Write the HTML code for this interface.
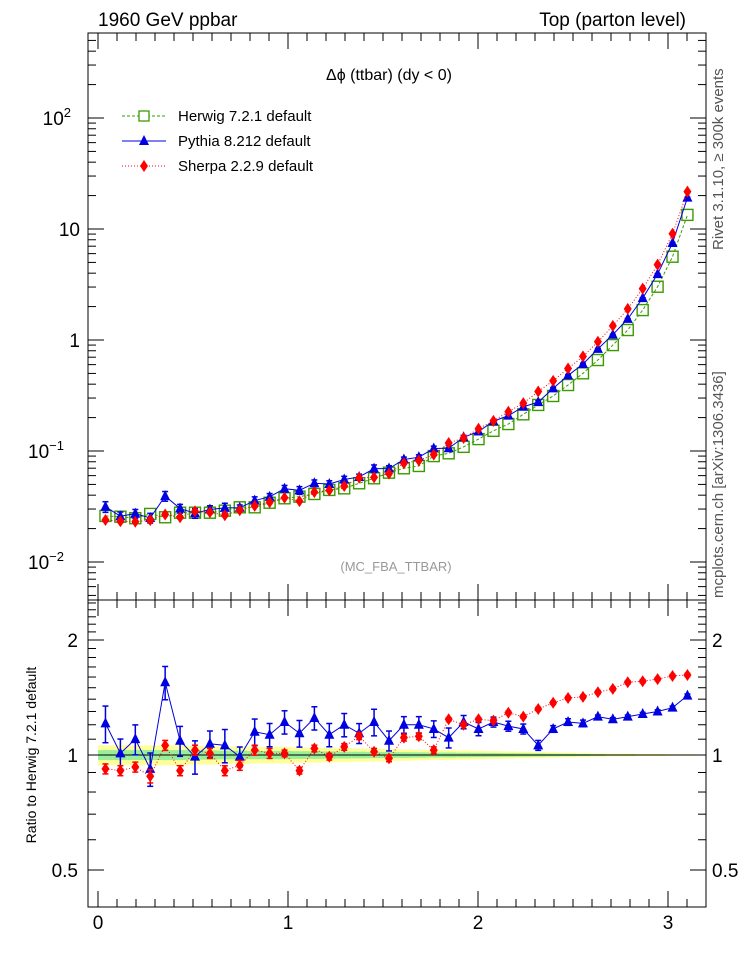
<!DOCTYPE html>
<html><head><meta charset="utf-8"><style>
html,body{margin:0;padding:0;background:#fff;}
svg{display:block;font-family:"Liberation Sans",sans-serif;}
</style></head><body>
<svg id="c" width="746" height="972" viewBox="0 0 746 972" xmlns="http://www.w3.org/2000/svg">
<text x="98" y="26" font-size="19">1960 GeV ppbar</text>
<text x="686" y="26" font-size="19" text-anchor="end">Top (parton level)</text>
<text x="389" y="80" font-size="16" text-anchor="middle">Δϕ (ttbar) (dy &lt; 0)</text>
<text x="396" y="571" font-size="13" fill="#999" text-anchor="middle">(MC_FBA_TTBAR)</text>
<text transform="translate(723,250) rotate(-90)" font-size="15" fill="#555">Rivet 3.1.10, ≥ 300k events</text>
<text transform="translate(723,598) rotate(-90)" font-size="15" fill="#555">mcplots.cern.ch [arXiv:1306.3436]</text>
<text transform="translate(36,755) rotate(-90)" font-size="14" text-anchor="middle">Ratio to Herwig 7.2.1 default</text>
<g id="legend">
<g><line x1="122" y1="116" x2="166" y2="116" stroke="#3a9a00" stroke-dasharray="3,2"/><rect x="139" y="111" width="10" height="10" fill="#fff" stroke="#3a9a00" stroke-width="1.3"/><text x="178" y="121" font-size="15">Herwig 7.2.1 default</text></g>
<g><line x1="122" y1="141" x2="166" y2="141" stroke="#0000e0"/><polygon points="144,135 149,145 139,145" fill="#0000e0"/><text x="178" y="146" font-size="15">Pythia 8.212 default</text></g>
<g><line x1="122" y1="166" x2="166" y2="166" stroke="#f00" stroke-dasharray="1,2"/><polygon points="144,160 148,166 144,172 140,166" fill="#f00"/><text x="178" y="171" font-size="15">Sherpa 2.2.9 default</text></g>
</g>
</svg>
<script>
const herwig=[0.0260,0.0256,0.0248,0.0271,0.0253,0.0278,0.0278,0.0278,0.0290,0.0311,0.0311,0.0342,0.0375,0.0388,0.0410,0.0446,0.0461,0.0512,0.0568,0.0638,0.0699,0.0733,0.090,0.0953,0.109,0.128,0.152,0.175,0.214,0.260,0.313,0.393,0.501,0.66,0.90,1.23,1.86,3.02,5.63,13.4];
const pythiaRatio=[1.21,1.01,1.10,0.92,1.55,1.09,0.99,1.07,1.06,0.99,1.15,1.13,1.22,1.14,1.25,1.13,1.20,1.14,1.22,1.09,1.20,1.20,1.17,1.11,1.22,1.17,1.22,1.19,1.17,1.06,1.17,1.22,1.21,1.26,1.24,1.26,1.28,1.30,1.33,1.43];
const sherpaRatio=[0.92,0.91,0.93,0.88,1.06,0.91,1.03,1.01,0.91,0.94,1.03,1.01,1.01,0.91,1.04,0.99,1.05,1.12,1.02,0.98,1.11,1.12,1.03,1.24,1.20,1.24,1.23,1.29,1.26,1.32,1.37,1.41,1.42,1.46,1.49,1.55,1.56,1.58,1.61,1.62];
const pythiaErr=[0.11,0.09,0.09,0.1,0.1,0.09,0.1,0.08,0.1,0.06,0.08,0.07,0.07,0.08,0.07,0.07,0.07,0.06,0.08,0.06,0.05,0.05,0.05,0.06,0.04,0.04,0.03,0.03,0.03,0.03,0.02,0.02,0.02,0.01,0.01,0.01,0.01,0.01,0.01,0.01];
const sherpaErr=[0.03,0.03,0.03,0.04,0.03,0.03,0.03,0.03,0.03,0.03,0.03,0.03,0.02,0.02,0.02,0.02,0.02,0.02,0.02,0.02,0.02,0.02,0.02,0.01,0.01,0.01,0.01,0.01,0.01,0.01,0.01,0.01,0.01,0.01,0.01,0.01,0.01,0.01,0.01,0.01];
const herwigErr=[0.03,0.03,0.03,0.03,0.03,0.03,0.028,0.028,0.026,0.026,0.025,0.025,0.025,0.023,0.023,0.022,0.021,0.02,0.019,0.018,0.017,0.016,0.015,0.015,0.014,0.013,0.012,0.011,0.01,0.009,0.008,0.007,0.006,0.005,0.004,0.004,0.003,0.003,0.002,0.002];
const mainTicks=[[2,"10","2"],[1,"10",""],[0,"1",""],[-1,"10","−1"],[-2,"10","−2"]];
const ratioTicks=[2,1,0.5];
const xTicks=[0,1,2,3];

const NS="http://www.w3.org/2000/svg";
const svg=document.getElementById('c');
const L=88,R=706,T=33,MB=600,RB=907;
const X=v=>98+v*190;
const YM=v=>340-111*Math.log10(v);
const YR=r=>755-115*Math.log2(r);
const nb=herwig.length, w=Math.PI/nb;
function el(t,a,p){const e=document.createElementNS(NS,t);for(const k in a)e.setAttribute(k,a[k]);(p||svg).appendChild(e);return e;}

const bands=el('g',{});


for(let i=0;i<nb;i++){const x0=X(i*w),x1=X((i+1)*w);const e=herwigErr[i];
 el('rect',{x:x0,y:YR(1+2*e),width:x1-x0+0.5,height:YR(1-2*e)-YR(1+2*e),fill:'#ffff99'},bands);
 el('rect',{x:x0,y:YR(1+e),width:x1-x0+0.5,height:YR(1-e)-YR(1+e),fill:'#99ee99'},bands);}
el('line',{x1:L,y1:YR(1),x2:R,y2:YR(1),stroke:'#000','stroke-width':1});

const f1=el('rect',{x:L,y:T,width:R-L,height:MB-T,fill:'none',stroke:'#000'});


const f2=el('rect',{x:L,y:MB,width:R-L,height:RB-MB,fill:'none',stroke:'#000'});



const ax=el('g',{stroke:'#000'});


for(let k=-3;k<=2;k++)for(let m=1;m<10;m++){const v=m*Math.pow(10,k);const y=YM(v);if(y<T||y>MB)continue;const len=m==1?16:8;
 el('line',{x1:L,y1:y,x2:L+len,y2:y},ax);el('line',{x1:R,y1:y,x2:R-len,y2:y},ax);}
mainTicks.forEach(t=>{const y=YM(Math.pow(10,t[0]));const tx=el('text',{x:80,y:y+7,'font-size':19,'text-anchor':'end'});
 
 
 tx.textContent=t[1];if(t[2]){const s=el('tspan',{'font-size':13,dy:-8},tx);s.textContent=t[2];}
 if(t[2]){tx.setAttribute('x',78-(t[2].length*7));}});
for(let r=0.4;r<=2.55;r=Math.round((r+0.1)*10)/10){const y=YR(r);if(y<MB||y>RB)continue;const big=[0.5,1,2].includes(r);const len=big?16:8;
 el('line',{x1:L,y1:y,x2:L+len,y2:y},ax);el('line',{x1:R,y1:y,x2:R-len,y2:y},ax);}
ratioTicks.forEach(r=>{const y=YR(r)+7;
 const a=el('text',{x:78,y:y,'font-size':19,'text-anchor':'end'});a.textContent=String(r);
 
 
 const b=el('text',{x:712,y:y,'font-size':19});b.textContent=String(r);
 
 });
for(let v=0;v<=3.2;v=Math.round((v+0.1)*10)/10){const x=X(v);if(x<L||x>R)continue;const big=Math.abs(v-Math.round(v))<1e-6;const len=big?16:8;
 el('line',{x1:x,y1:MB,x2:x,y2:MB-len},ax);el('line',{x1:x,y1:T,x2:x,y2:T+len},ax);
 el('line',{x1:x,y1:RB,x2:x,y2:RB-len},ax);el('line',{x1:x,y1:MB,x2:x,y2:MB+len},ax);}
xTicks.forEach(v=>{const t=el('text',{x:X(v),y:929,'font-size':19,'text-anchor':'middle'});t.textContent=String(v);
 
 });

function series(name,vals,errs,color,dash,marker,yf,lo,hi){
 const g=el('g',{});
 
 
 let pts=[];
 for(let i=0;i<nb;i++){const x=X((i+0.5)*w);const y=yf(vals[i]);pts.push(x+','+y);}
 el('polyline',{points:pts.join(' '),fill:'none',stroke:color,'stroke-width':1,'stroke-dasharray':dash},g);
 for(let i=0;i<nb;i++){const x=X((i+0.5)*w);const v=vals[i];const y=yf(v);
  let ya=yf(v*(1+errs[i])),yb=yf(v*(1-errs[i]));ya=Math.max(ya,lo);yb=Math.min(yb,hi);
  if(errs[i]>0){el('line',{x1:x,y1:ya,x2:x,y2:yb,stroke:color,'stroke-width':1.5},g);
   el('line',{x1:x-3,y1:ya,x2:x+3,y2:ya,stroke:color,'stroke-width':1.5},g);el('line',{x1:x-3,y1:yb,x2:x+3,y2:yb,stroke:color,'stroke-width':1.5},g);}
  if(y<lo||y>hi)continue;
  let m;
  if(marker=='sq')m=el('rect',{x:x-5.5,y:y-5.5,width:11,height:11,fill:'#fff','fill-opacity':0,stroke:color,'stroke-width':1.4},g);
  else if(marker=='tri')m=el('polygon',{points:`${x},${y-6} ${x+5},${y+4} ${x-5},${y+4}`,fill:color},g);
  else m=el('polygon',{points:`${x},${y-6} ${x+4},${y} ${x},${y+6} ${x-4},${y}`,fill:color},g);
  
  }
}
const pythia=herwig.map((h,i)=>h*pythiaRatio[i]);
const sherpa=herwig.map((h,i)=>h*sherpaRatio[i]);
series('herwig-series',herwig,herwigErr.map(e=>0),'#3a9a00','3,2','sq',YM,T,MB);
series('pythia-series',pythia,pythiaErr,'#0000e0',null,'tri',YM,T,MB);
series('sherpa-series',sherpa,sherpaErr,'#f00','1,2','dia',YM,T,MB);
series('pythia-ratio',pythiaRatio,pythiaErr,'#0000e0',null,'tri',YR,MB,RB);
series('sherpa-ratio',sherpaRatio,sherpaErr,'#f00','1,2','dia',YR,MB,RB);
</script>
</body></html>
